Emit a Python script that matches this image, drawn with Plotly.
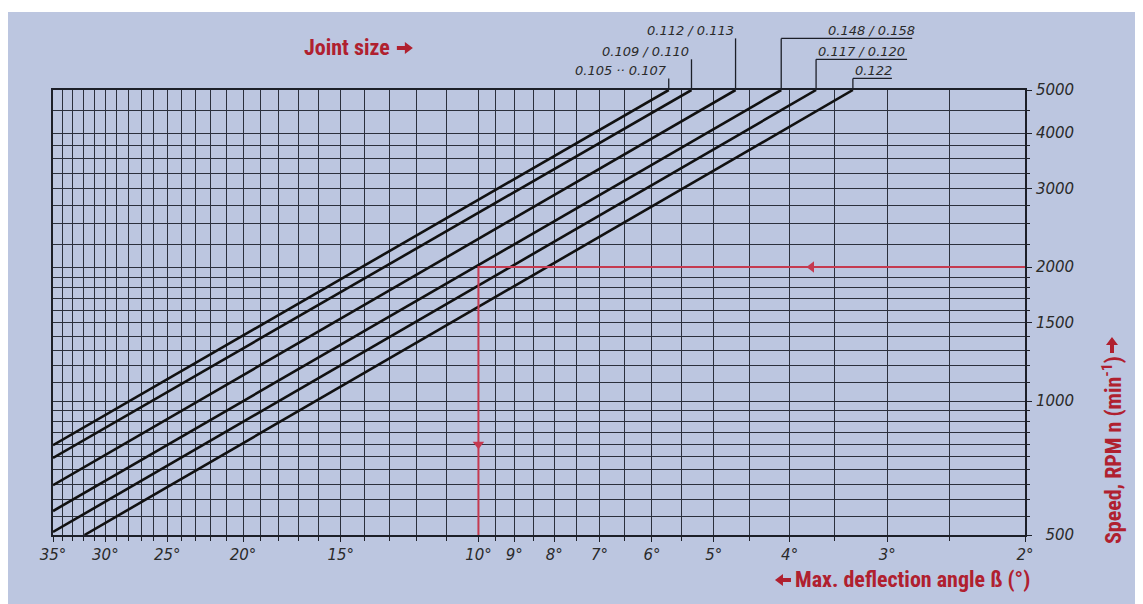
import math
import plotly.graph_objects as go

# ---------------- data ----------------
joint_sizes = ["0.105 ·· 0.107", "0.109 / 0.110", "0.112 / 0.113",
               "0.148 / 0.158", "0.117 / 0.120", "0.122"]
angle_start = [35, 35, 35, 35, 35, 31.9]          # deg (left / lower end)
rpm_start = [796, 745, 647, 566, 508, 500]        # min^-1
angle_end = [5.71, 5.34, 4.69, 4.10, 3.70, 3.32]  # deg (upper end)
rpm_end = [5000, 5000, 5000, 5000, 5000, 5000]

x_tick_vals = [35, 30, 25, 20, 15, 10, 9, 8, 7, 6, 5, 4, 3, 2]
x_tick_text = ["35°", "30°", "25°", "20°", "15°", "10°", "9°", "8°",
               "7°", "6°", "5°", "4°", "3°", "2°"]
x_grid_vals = [2, 2.5, 3, 3.5, 4, 4.5, 5, 5.5, 6, 6.5, 7, 7.5, 8, 8.5, 9, 9.5,
               10, 11, 12, 13, 14, 15, 16, 17, 18, 19, 20, 21, 22, 23, 24, 25,
               26, 27, 28, 29, 30, 31, 32, 33, 34, 35]

y_tick_vals = [500, 1000, 1500, 2000, 3000, 4000, 5000]
y_tick_text = ["\u2007500", "1000", "1500", "2000", "3000", "4000", "5000"]
y_grid_vals = [500, 550, 600, 650, 700, 750, 800, 850, 900, 950, 1000,
               1100, 1200, 1300, 1400, 1500, 1600, 1700, 1800, 1900, 2000,
               2250, 2500, 2750, 3000, 3250, 3500, 3750, 4000, 4500, 5000]

# worked example (red)
example_speed = 2000
example_angle = 10
example_start_angle = 2
example_end_rpm = 500
arrow_left_angle = 3.75
arrow_down_rpm = 800

# ---------------- styling ----------------
BG = "#BCC6E0"
INK = "#1c1f28"
GRID = "#2b303d"
RED_TXT = "#B0202F"
RED_LINE = "#C53A50"
NUM_FONT = dict(family="DejaVu Sans", size=15, color="#2a2a2a", style="italic")
LBL_FONT = dict(family="DejaVu Sans", size=13, color="#2a2a2a", style="italic")
TITLE_FONT = dict(family="Roboto Condensed, Liberation Sans Narrow, Roboto, sans-serif",
                  size=22, color=RED_TXT, weight="bold")

label_level = [1.026, 1.069, 1.116, 1.116, 1.069, 1.026]   # paper y of underline
label_side = ["right", "right", "right", "left", "left", "left"]
label_shift = [0, 0, 0, 45, 0, 0]
underline_px = [(-92, 0), (-92, 0), (-91, 0), (0, 131), (0, 91), (0, 39)]

fig = go.Figure()

# joint size lines
for a0, n0, a1, n1, name in zip(angle_start, rpm_start, angle_end, rpm_end, joint_sizes):
    fig.add_trace(go.Scatter(x=[a0, a1], y=[n0, n1], mode="lines",
                             line=dict(color="#111111", width=2.6),
                             name=name, showlegend=False, hoverinfo="skip"))

# worked example in red
fig.add_trace(go.Scatter(x=[example_start_angle, example_angle, example_angle],
                         y=[example_speed, example_speed, example_end_rpm],
                         mode="lines", line=dict(color=RED_LINE, width=2),
                         showlegend=False, hoverinfo="skip"))
fig.add_trace(go.Scatter(x=[arrow_left_angle], y=[example_speed], mode="markers",
                         marker=dict(symbol="triangle-left", size=10, color=RED_LINE),
                         showlegend=False, hoverinfo="skip"))
fig.add_trace(go.Scatter(x=[example_angle], y=[arrow_down_rpm], mode="markers",
                         marker=dict(symbol="triangle-down", size=10, color=RED_LINE),
                         showlegend=False, hoverinfo="skip"))

# leaders, underlines and joint size labels
shapes = []
annotations = []
for i, name in enumerate(joint_sizes):
    xd = angle_end[i]                 # shapes on log axes take data values
    xa = math.log10(angle_end[i])     # annotations on log axes take log values
    lvl = label_level[i]
    shapes.append(dict(type="line", xref="x", yref="paper", x0=xd, x1=xd,
                       y0=1.0, y1=lvl, line=dict(color=INK, width=1.3)))
    u0, u1 = underline_px[i]
    shapes.append(dict(type="line", xref="x", yref="paper", xsizemode="pixel",
                       xanchor=xd, x0=u0, x1=u1, y0=lvl, y1=lvl,
                       line=dict(color=INK, width=1.3)))
    annotations.append(dict(text=name, xref="x", yref="paper", x=xa, y=lvl,
                            xanchor="right" if label_side[i] == "right" else "left",
                            yanchor="bottom", xshift=label_shift[i], yshift=-2,
                            showarrow=False, font=LBL_FONT))

# white top strip of the original picture
shapes.append(dict(type="rect", xref="paper", yref="paper", x0=-0.1, x1=1.2,
                   y0=1.1753, y1=1.25, fillcolor="white", line=dict(width=0), layer="below"))

# heavy red arrows next to the titles (pixel-sized paths)
ARROW_R = "M-8,-2 L0,-2 L0,-6 L8,0 L0,6 L0,2 L-8,2 Z"
ARROW_L = "M8,-2 L0,-2 L0,-6 L-8,0 L0,6 L0,2 L8,2 Z"
ARROW_U = "M-2,-8 L-2,0 L-6,0 L0,8 L6,0 L2,0 L2,-8 Z"
for path, ax_, ay_ in [(ARROW_R, 0.362, 1.0944), (ARROW_L, 0.751, -0.1011),
                       (ARROW_U, 1.0895, 0.427)]:
    shapes.append(dict(type="path", xref="paper", yref="paper",
                       xsizemode="pixel", ysizemode="pixel",
                       xanchor=ax_, yanchor=ay_, path=path,
                       fillcolor=RED_TXT, line=dict(width=0)))

# red titles
annotations.append(dict(text="Joint size", xref="paper", yref="paper",
                        x=0.302, y=1.0944, xanchor="center", yanchor="middle",
                        showarrow=False, font=TITLE_FONT))
annotations.append(dict(text="Max. deflection angle ß (°)", xref="paper", yref="paper",
                        x=0.8843, y=-0.1011, xanchor="center", yanchor="middle",
                        showarrow=False, font=TITLE_FONT))
annotations.append(dict(text="Speed, RPM n (min<sup>-1</sup>)", xref="paper", yref="paper",
                        x=1.0895, y=0.191, textangle=-90, xanchor="center", yanchor="middle",
                        showarrow=False, font=TITLE_FONT))

fig.update_layout(
    width=1135, height=596,
    margin=dict(l=45, r=118, t=82, b=69, pad=0),
    paper_bgcolor=BG, plot_bgcolor=BG,
    shapes=shapes, annotations=annotations,
    showlegend=False,
)

fig.update_xaxes(
    type="log", range=[math.log10(35), math.log10(2)],
    tickmode="array", tickvals=x_tick_vals, ticktext=x_tick_text,
    tickfont=NUM_FONT, ticks="outside", ticklen=5, tickcolor=INK, tickwidth=1,
    showgrid=True, gridcolor=GRID, gridwidth=1.1,
    minor=dict(tickmode="array", tickvals=x_grid_vals, showgrid=True,
               gridcolor=GRID, gridwidth=1.1, ticks="outside", ticklen=4,
               tickcolor=INK),
    showline=True, mirror=True, linecolor=INK, linewidth=1.8,
    zeroline=False, fixedrange=True,
)
fig.update_yaxes(
    type="log", range=[math.log10(500), math.log10(5000)], side="right",
    tickmode="array", tickvals=y_tick_vals, ticktext=y_tick_text,
    tickfont=NUM_FONT, ticks="outside", ticklen=5, tickcolor=INK, tickwidth=1,
    ticklabelstandoff=1,
    showgrid=True, gridcolor=GRID, gridwidth=1.1,
    minor=dict(tickmode="array", tickvals=y_grid_vals, showgrid=True,
               gridcolor=GRID, gridwidth=1.1, ticks="outside", ticklen=3,
               tickcolor=INK),
    showline=True, mirror=True, linecolor=INK, linewidth=1.8,
    zeroline=False, fixedrange=True,
)

fig.write_html("out.html")
